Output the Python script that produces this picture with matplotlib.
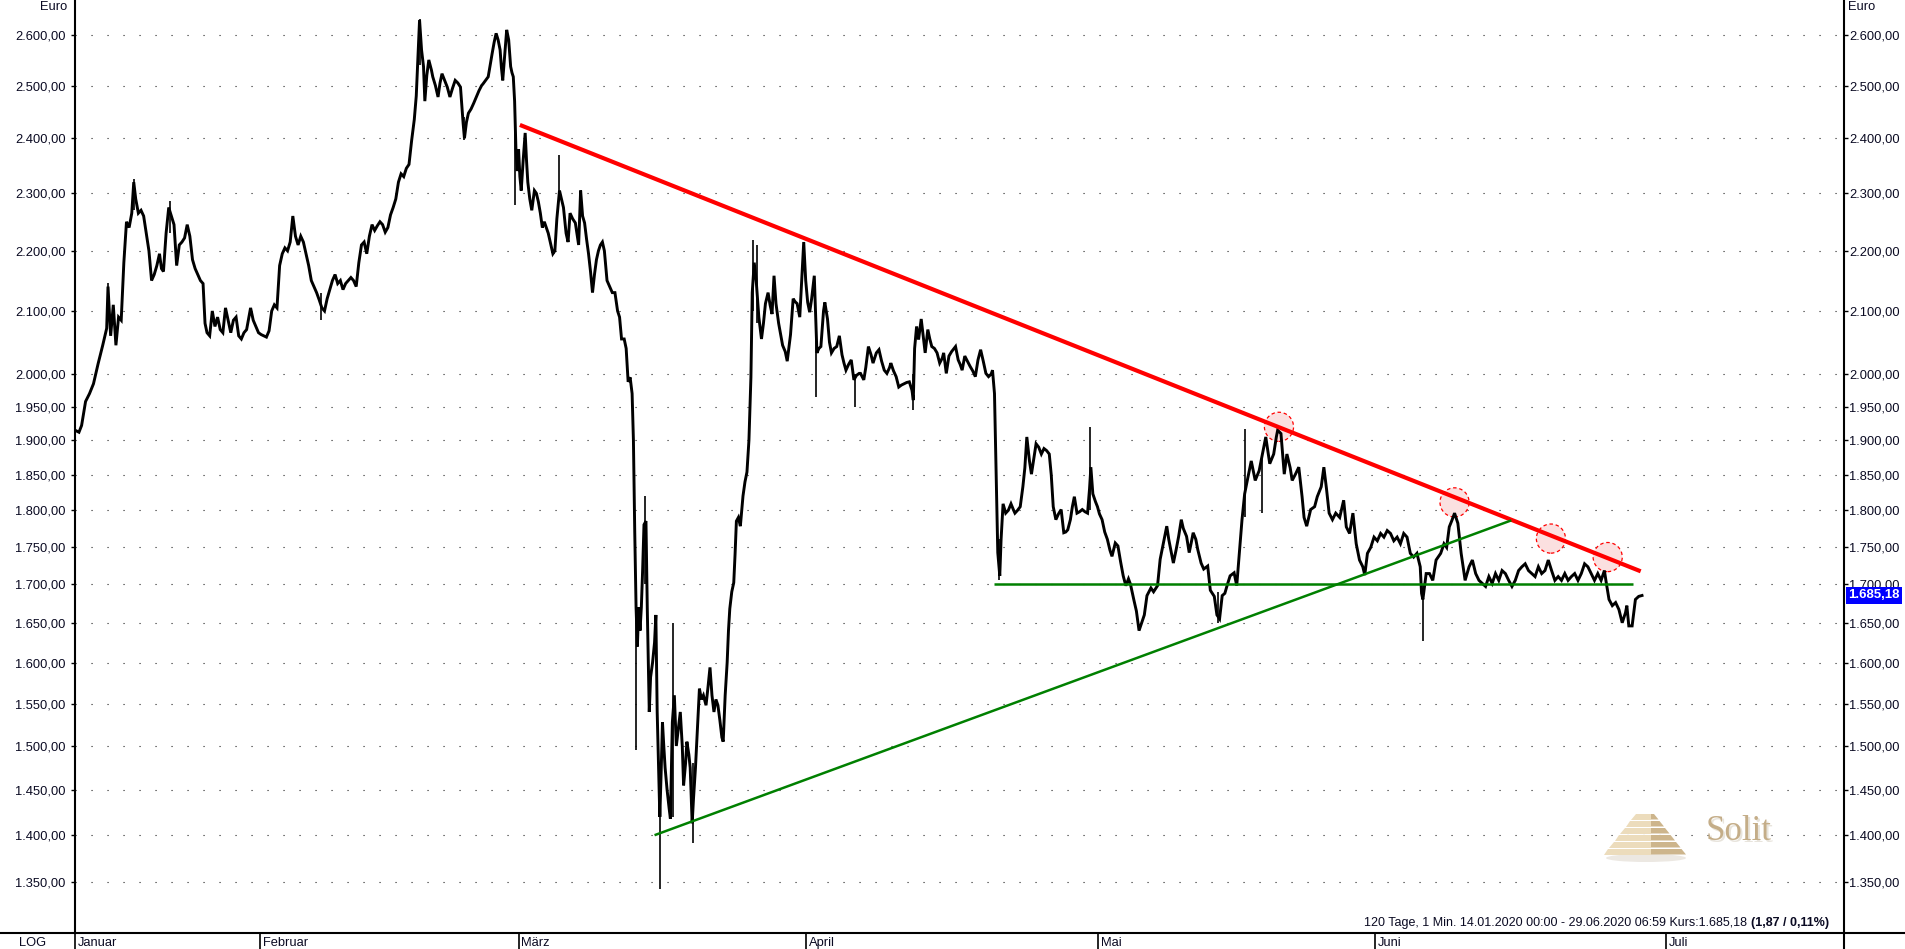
import matplotlib
matplotlib.use('Agg')
import matplotlib.pyplot as plt
from matplotlib.lines import Line2D
from matplotlib.patches import Polygon, Ellipse
from matplotlib.ticker import NullLocator
from matplotlib.transforms import blended_transform_factory

plt.rcParams['font.family'] = ['Liberation Sans', 'DejaVu Sans']
plt.rcParams['font.size'] = 9
plt.rcParams['lines.scale_dashes'] = False

# ---- data (x = trading days since 14.01.2020, y = Euro) ----
days = [0.0, 0.3, 0.5, 0.8, 1.1, 1.4, 1.75, 2.1, 2.4, 2.5, 2.7, 2.9, 3.1, 3.3, 3.5, 3.7, 3.9, 4.1, 4.3, 4.45,
        4.6, 4.8, 5.0, 5.2, 5.4, 5.6, 5.8, 6.0, 6.2, 6.4, 6.55, 6.7, 6.9, 7.1, 7.3, 7.5, 7.7, 7.9, 8.1, 8.3,
        8.5, 8.7, 8.9, 9.1, 9.3, 9.5, 9.7, 9.85, 10.0, 10.2, 10.4, 10.6, 10.8, 11.0, 11.2, 11.4, 11.6, 11.8, 12.0, 12.2,
        12.4, 12.6, 12.8, 13.0, 13.3, 13.5, 13.7, 13.9, 14.1, 14.3, 14.5, 14.7, 14.9, 15.1, 15.3, 15.5, 15.7, 15.9, 16.1, 16.3,
        16.5, 16.7, 16.9, 17.1, 17.3, 17.5, 17.7, 17.9, 18.1, 18.3, 18.5, 18.7, 18.9, 19.1, 19.3, 19.5, 19.7, 19.9, 20.1, 20.3,
        20.5, 20.7, 20.9, 21.1, 21.3, 21.5, 21.7, 21.9, 22.1, 22.3, 22.5, 22.7, 22.9, 23.1, 23.3, 23.5, 23.7, 23.9, 24.1, 24.3,
        24.5, 24.7, 24.9, 25.1, 25.3, 25.5, 25.7, 25.85, 25.95, 26.1, 26.25, 26.4, 26.5, 26.65, 26.8, 27.0, 27.1, 27.3, 27.5, 27.65,
        27.8, 28.0, 28.2, 28.4, 28.6, 28.8, 29.0, 29.2, 29.4, 29.5, 29.65, 29.8, 30.0, 30.2, 30.4, 30.6, 30.8, 30.9, 31.1, 31.3,
        31.45, 31.6, 31.75, 31.9, 32.05, 32.2, 32.3, 32.4, 32.55, 32.7, 32.85, 33.0, 33.1, 33.2, 33.3, 33.4, 33.5, 33.6, 33.7, 33.8,
        33.95, 34.1, 34.2, 34.3, 34.45, 34.6, 34.8, 34.95, 35.1, 35.25, 35.4, 35.55, 35.7, 35.85, 36.0, 36.2, 36.35, 36.5, 36.7, 36.85,
        37.0, 37.2, 37.35, 37.5, 37.7, 37.9, 38.05, 38.15, 38.3, 38.45, 38.6, 38.75, 38.9, 39.05, 39.2, 39.35, 39.5, 39.65, 39.8, 39.95,
        40.1, 40.3, 40.5, 40.7, 40.9, 41.1, 41.25, 41.4, 41.6, 41.75, 41.9, 42.05, 42.2, 42.3, 42.4, 42.5, 42.6, 42.7, 42.8, 42.9,
        43.0, 43.1, 43.25, 43.35, 43.5, 43.6, 43.75, 43.9, 44.0, 44.1, 44.2, 44.3, 44.4, 44.5, 44.6, 44.7, 44.85, 45.0, 45.1, 45.25,
        45.4, 45.55, 45.7, 45.85, 46.0, 46.1, 46.25, 46.35, 46.5, 46.6, 46.75, 46.85, 47.0, 47.15, 47.3, 47.45, 47.6, 47.8, 47.95, 48.1,
        48.25, 48.4, 48.55, 48.7, 48.85, 49.0, 49.1, 49.25, 49.4, 49.5, 49.6, 49.75, 49.9, 50.0, 50.1, 50.25, 50.4, 50.6, 50.75, 50.9,
        51.05, 51.2, 51.3, 51.45, 51.6, 51.8, 52.0, 52.15, 52.3, 52.5, 52.65, 52.8, 52.95, 53.1, 53.3, 53.45, 53.6, 53.8, 53.95, 54.1,
        54.2, 54.4, 54.55, 54.7, 54.9, 55.05, 55.2, 55.35, 55.5, 55.65, 55.8, 56.0, 56.2, 56.35, 56.5, 56.7, 56.8, 57.0, 57.15, 57.3,
        57.5, 57.7, 57.9, 58.1, 58.25, 58.4, 58.6, 58.8, 59.0, 59.2, 59.4, 59.5, 59.75, 59.9, 60.1, 60.3, 60.45, 60.7, 60.9, 61.1,
        61.3, 61.5, 61.7, 61.8, 62.0, 62.2, 62.4, 62.6, 62.8, 63.0, 63.2, 63.4, 63.5, 63.6, 63.75, 63.9, 64.1, 64.25, 64.4, 64.6,
        64.75, 64.9, 65.1, 65.3, 65.5, 65.7, 65.8, 66.0, 66.2, 66.4, 66.7, 66.9, 67.05, 67.2, 67.4, 67.6, 67.8, 68.0, 68.2, 68.4,
        68.6, 68.8, 69.0, 69.2, 69.4, 69.5, 69.65, 69.8, 69.9, 70.05, 70.15, 70.3, 70.5, 70.7, 70.9, 71.1, 71.2, 71.4, 71.6, 71.8,
        71.95, 72.1, 72.3, 72.45, 72.6, 72.8, 73.0, 73.2, 73.4, 73.6, 73.8, 73.95, 74.1, 74.3, 74.5, 74.7, 74.9, 75.05, 75.2, 75.4,
        75.55, 75.7, 75.9, 76.1, 76.3, 76.5, 76.7, 76.85, 76.95, 77.1, 77.3, 77.45, 77.6, 77.8, 78.0, 78.2, 78.4, 78.55, 78.8, 79.0,
        79.2, 79.4, 79.6, 79.8, 79.95, 80.2, 80.4, 80.6, 80.8, 81.0, 81.2, 81.5, 81.7, 82.0, 82.2, 82.5, 82.7, 82.85, 83.0, 83.2,
        83.4, 83.6, 83.8, 83.95, 84.2, 84.4, 84.55, 84.7, 84.9, 85.05, 85.3, 85.5, 85.8, 86.0, 86.3, 86.5, 86.7, 86.9, 87.1, 87.3,
        87.5, 87.8, 88.0, 88.2, 88.4, 88.6, 88.8, 89.1, 89.4, 89.7, 89.95, 90.2, 90.5, 90.8, 91.0, 91.1, 91.35, 91.6, 91.8, 92.05,
        92.2, 92.45, 92.7, 92.95, 93.1, 93.3, 93.6, 93.9, 94.1, 94.4, 94.6, 94.8, 95.0, 95.25, 95.5, 95.8, 96.1, 96.3, 96.55, 96.8,
        97.05, 97.3, 97.55, 97.7, 97.9, 98.15, 98.4, 98.65, 98.9, 99.15, 99.4, 99.65, 99.9, 100.15, 100.4, 100.65, 100.9, 101.15, 101.4, 101.65,
        101.9, 102.0, 102.1, 102.35, 102.6, 102.85, 103.1, 103.45, 103.7, 103.9, 104.1, 104.3, 104.5, 104.75, 105.0, 105.3, 105.6, 105.85, 106.1, 106.35,
        106.6, 106.85, 107.1, 107.35, 107.6, 107.85, 108.1, 108.35, 108.6, 108.85, 109.1, 109.35, 109.6, 109.85, 110.1, 110.35, 110.6, 110.85, 111.1, 111.35,
        111.6, 111.85, 112.1, 112.35, 112.6, 112.85, 113.1, 113.35, 113.6, 113.85, 114.1, 114.35, 114.6, 114.85, 115.1, 115.35, 115.6, 115.85, 116.0, 116.2,
        116.45, 116.7, 116.95, 117.2, 117.45, 117.55, 117.7, 117.95, 118.2, 118.45, 118.7]
price = [1915, 1912, 1922, 1958, 1970, 1985, 2016, 2045, 2072, 2140, 2060, 2110, 2045, 2090, 2085, 2180, 2250, 2240, 2265, 2320,
         2290, 2265, 2270, 2260, 2230, 2200, 2150, 2160, 2175, 2195, 2170, 2165, 2230, 2275, 2260, 2245, 2175, 2210, 2215, 2222,
         2245, 2225, 2185, 2170, 2160, 2150, 2145, 2080, 2065, 2060, 2100, 2075, 2090, 2070, 2065, 2105, 2085, 2065, 2085, 2090,
         2060, 2055, 2065, 2070, 2105, 2085, 2075, 2065, 2062, 2060, 2058, 2068, 2100, 2110, 2105, 2175, 2195, 2205, 2200, 2215,
         2260, 2225, 2210, 2225, 2215, 2195, 2175, 2150, 2140, 2130, 2118, 2105, 2100, 2120, 2135, 2150, 2160, 2145, 2150, 2135,
         2145, 2150, 2155, 2150, 2140, 2180, 2210, 2215, 2195, 2225, 2245, 2235, 2243, 2250, 2245, 2232, 2240, 2262, 2275, 2290,
         2320, 2335, 2330, 2345, 2352, 2396, 2435, 2480, 2540, 2630, 2570, 2537, 2470, 2520, 2550, 2530, 2517, 2500, 2478, 2505,
         2523, 2510, 2497, 2478, 2495, 2510, 2505, 2497, 2428, 2400, 2430, 2447, 2455, 2466, 2478, 2490, 2500, 2503, 2510, 2517,
         2540, 2563, 2585, 2603, 2590, 2570, 2535, 2510, 2560, 2610, 2590, 2537, 2525, 2517, 2470, 2380, 2340, 2380, 2330, 2305,
         2360, 2410, 2360, 2320, 2290, 2270, 2305, 2300, 2285, 2265, 2240, 2250, 2240, 2230, 2215, 2195, 2200, 2255, 2305, 2290,
         2275, 2230, 2215, 2265, 2255, 2248, 2225, 2210, 2305, 2260, 2248, 2220, 2195, 2165, 2130, 2160, 2185, 2200, 2210, 2215,
         2200, 2150, 2140, 2130, 2130, 2100, 2090, 2055, 2055, 2040, 1988, 1995, 1970, 1900, 1770, 1670, 1620, 1670, 1640, 1670,
         1720, 1780, 1785, 1668, 1540, 1582, 1600, 1625, 1660, 1540, 1480, 1420, 1470, 1528, 1500, 1475, 1450, 1430, 1418, 1528,
         1560, 1500, 1520, 1540, 1500, 1455, 1480, 1505, 1490, 1475, 1413, 1440, 1475, 1520, 1568, 1555, 1560, 1548, 1570, 1594,
         1560, 1540, 1555, 1548, 1530, 1510, 1505, 1560, 1600, 1640, 1668, 1690, 1702, 1740, 1785, 1790, 1778, 1820, 1840, 1854,
         1900, 1995, 2130, 2180, 2150, 2090, 2055, 2080, 2112, 2130, 2110, 2095, 2158, 2112, 2080, 2062, 2045, 2035, 2020, 2045,
         2062, 2120, 2115, 2112, 2090, 2150, 2215, 2150, 2114, 2098, 2120, 2158, 2033, 2040, 2043, 2100, 2114, 2087, 2050, 2033,
         2040, 2043, 2060, 2030, 2017, 2006, 2015, 2022, 1991, 1998, 2001, 2001, 1991, 2010, 2043, 2030, 2017, 2033, 2038, 2020,
         2006, 2001, 2010, 2017, 2005, 1996, 1980, 1983, 1985, 1987, 1988, 1975, 1960, 2040, 2075, 2054, 2087, 2060, 2033, 2070,
         2055, 2043, 2040, 2033, 2017, 2025, 2033, 2001, 2028, 2035, 2043, 2022, 2015, 2006, 2028, 2020, 2012, 2005, 1996, 2022,
         2038, 2020, 2001, 1996, 2000, 2006, 1970, 1833, 1742, 1711, 1760, 1809, 1796, 1800, 1809, 1800, 1796, 1800, 1805, 1833,
         1860, 1905, 1870, 1851, 1870, 1895, 1890, 1880, 1888, 1885, 1880, 1850, 1805, 1787, 1795, 1801, 1769, 1770, 1773, 1787,
         1805, 1819, 1796, 1798, 1801, 1798, 1796, 1830, 1861, 1823, 1812, 1805, 1795, 1787, 1770, 1760, 1745, 1737, 1755, 1751,
         1730, 1711, 1698, 1707, 1700, 1680, 1665, 1640, 1650, 1660, 1685, 1695, 1690, 1698, 1733, 1760, 1778, 1760, 1746, 1728,
         1745, 1764, 1787, 1775, 1764, 1742, 1755, 1769, 1760, 1746, 1728, 1720, 1724, 1692, 1684, 1660, 1655, 1685, 1688, 1700,
         1711, 1715, 1698, 1742, 1787, 1823, 1842, 1870, 1842, 1856, 1880, 1905, 1866, 1880, 1905, 1915, 1910, 1851, 1880, 1860,
         1842, 1851, 1861, 1819, 1790, 1778, 1801, 1805, 1819, 1833, 1861, 1830, 1796, 1787, 1796, 1790, 1814, 1777, 1768, 1796,
         1754, 1732, 1723, 1712, 1741, 1749, 1763, 1758, 1768, 1763, 1772, 1768, 1758, 1763, 1754, 1768, 1763, 1741, 1736, 1741,
         1723, 1688, 1680, 1714, 1714, 1705, 1732, 1741, 1754, 1749, 1777, 1786, 1796, 1782, 1741, 1705, 1723, 1732, 1714, 1705,
         1701, 1697, 1710, 1701, 1714, 1705, 1718, 1714, 1705, 1697, 1705, 1718, 1723, 1727, 1718, 1714, 1710, 1723, 1714, 1718,
         1732, 1718, 1705, 1710, 1705, 1714, 1705, 1710, 1714, 1705, 1714, 1727, 1723, 1714, 1705, 1714, 1705, 1718, 1701, 1680,
         1672, 1676, 1667, 1650, 1663, 1672, 1646, 1646, 1680, 1684, 1685.18]

# single-candle wicks
wick_days = [2.5, 4.45, 7.2, 18.6, 26.1, 29.45, 33.35, 36.7, 42.5, 43.15, 44.3, 45.3, 46.8, 51.35, 51.65,
             56.1, 59.1, 63.5, 70.0, 76.9, 86.6, 88.6, 89.9, 102.1]
wick_low = [2100, 2270, 2230, 2085, 2540, 2397, 2280, 2290, 1495, 1700, 1343, 1420, 1392, 2100, 2080,
            1965, 1950, 1945, 1705, 1800, 1650, 1790, 1796, 1627]
wick_high = [2146, 2325, 2287, 2130, 2632, 2440, 2470, 2370, 1680, 1820, 1440, 1650, 1480, 2218, 2210,
             2090, 2000, 2000, 1760, 1920, 1690, 1917, 1880, 1700]

# trend lines
red_days = [33.7, 118.6]
red_price = [2425, 1717]
green_up_days = [43.9, 108.8]
green_up_price = [1400, 1786]
support_days = [69.6, 118.0]
support_price = [1700, 1700]

# touch points marked with circles
touch_days = [91.2, 104.5, 111.8, 116.1]
touch_price = [1920, 1811, 1761, 1736]

last_price = 1685.18
last_label = '1.685,18'

ytick_vals = [1350, 1400, 1450, 1500, 1550, 1600, 1650, 1700, 1750, 1800, 1850, 1900, 1950, 2000,
              2100, 2200, 2300, 2400, 2500, 2600]
ytick_labels = ['1.350,00', '1.400,00', '1.450,00', '1.500,00', '1.550,00', '1.600,00', '1.650,00',
                '1.700,00', '1.750,00', '1.800,00', '1.850,00', '1.900,00', '1.950,00', '2.000,00',
                '2.100,00', '2.200,00', '2.300,00', '2.400,00', '2.500,00', '2.600,00']
month_days = [0, 14, 33.6, 55.4, 77.5, 98.5, 120.5]
month_names = ['Januar', 'Februar', 'März', 'April', 'Mai', 'Juni', 'Juli']

info_text = '120 Tage, 1 Min. 14.01.2020 00:00 - 29.06.2020 06:59 Kurs:1.685,18'
info_bold = '(1,87 / 0,11%)'

# ---- figure ----
W, H = 1906, 949
fig = plt.figure(figsize=(W / 100, H / 100), dpi=100)
ax = fig.add_axes([75 / W, (H - 933) / H, (1844 - 75) / W, 933 / H])
ax.set_yscale('log')
ax.set_ylim(1298, 2671)
ax.set_xlim(0, 134)

txt_col = '#0a0a22'
fs = 9.3

for yv in ytick_vals:
    ax.axhline(yv, color='#222222', lw=0.8, ls=(0, (0.8, 10.72)), zorder=0)

ax.scatter(touch_days, touch_price, s=440, facecolors='#fbe0e0', edgecolors='red',
           linewidths=0.9, linestyles=(0, (2.5, 2)), zorder=1)

ax.vlines(wick_days, wick_low, wick_high, color='black', lw=1.2, zorder=2)
ax.plot(days, price, color='black', lw=2.1, zorder=2, solid_joinstyle='miter')

ax.plot(red_days, red_price, color='#ff0000', lw=3.0, zorder=3, solid_capstyle='butt')
ax.plot(green_up_days, green_up_price, color='#008000', lw=1.8, zorder=3, solid_capstyle='butt')
ax.plot(support_days, support_price, color='#008000', lw=1.8, zorder=3, solid_capstyle='butt')

# axes styling
for side in ['top', 'bottom']:
    ax.spines[side].set_visible(False)
for side in ['left', 'right']:
    ax.spines[side].set_linewidth(1.5)
ax.yaxis.set_minor_locator(NullLocator())
ax.set_yticks(ytick_vals)
ax.set_yticklabels(ytick_labels)
ax.tick_params(axis='y', length=3, width=1, pad=3.6, labelsize=fs, labelcolor=txt_col)

ax.set_xticks(month_days)
ax.tick_params(axis='x', length=11.5, width=1.2, direction='out', labelbottom=False)
for d, name in zip(month_days, month_names):
    ax.annotate(name, xy=(d, 0), xycoords=('data', 'axes fraction'), xytext=(2, -7.3),
                textcoords='offset points', ha='left', va='center', fontsize=fs, color=txt_col)

ax2 = ax.twinx()
ax2.set_yscale('log')
ax2.set_ylim(ax.get_ylim())
for side in ['top', 'bottom', 'left', 'right']:
    ax2.spines[side].set_visible(False)
ax2.yaxis.set_minor_locator(NullLocator())
ax2.set_yticks(ytick_vals)
ax2.set_yticklabels(ytick_labels)
ax2.tick_params(axis='y', length=3, width=1, pad=0.8, labelsize=fs, labelcolor=txt_col)

trans = blended_transform_factory(ax2.transAxes, ax2.transData)
ax2.text(1.0025, last_price, last_label, transform=trans, ha='left', va='center',
         color='white', fontsize=9.5, fontweight='bold', zorder=5,
         bbox=dict(boxstyle='square,pad=0.18', fc='#0000ff', ec='none'))

# frame lines outside axes
yb = 1 - 933 / H
fig.add_artist(Line2D([0, 1], [yb, yb], color='black', lw=1.5))
fig.add_artist(Line2D([1844 / W, 1844 / W], [0, yb], color='black', lw=1.5))

fig.text(67 / W, 1 - 7 / H, 'Euro', ha='right', va='center', fontsize=fs, color=txt_col)
fig.text(1848 / W, 1 - 7 / H, 'Euro', ha='left', va='center', fontsize=fs, color=txt_col)
fig.text(33 / W, 1 - 943 / H, 'LOG', ha='center', va='center', fontsize=fs, color=txt_col)

yi = 1 - 923 / H
tb = fig.text(1829 / W, yi, info_bold, ha='right', va='center', fontsize=9, fontweight='bold', color=txt_col)
fig.canvas.draw()
bb = tb.get_window_extent()
fig.text((bb.x0 - 4) / W, yi, info_text, ha='right', va='center', fontsize=9, color=txt_col)

# Solit logo
fig.text(1741 / W, 1 - 834 / H, 'Solit', ha='center', va='center', fontsize=25,
         family=['Liberation Serif', 'DejaVu Serif'], color='#e8e4dc')
fig.text(1739 / W, 1 - 832 / H, 'Solit', ha='center', va='center', fontsize=25,
         family=['Liberation Serif', 'DejaVu Serif'], color='#c4ad88')
fig.add_artist(Ellipse((1646 / W, 1 - 858 / H), 80 / W, 8 / H, transform=fig.transFigure,
                       fc='#ece8e2', ec='none'))
cx = 1645
for i in range(6):
    top = 814 + i * 7
    bot = top + 5.5
    wt = 18 + i * 11
    wb = wt + 9
    left = Polygon([(cx - wt / 2, top), (cx + 6, top), (cx + 6, bot), (cx - wb / 2, bot)], closed=True)
    right = Polygon([(cx + 6, top), (cx + wt / 2, top), (cx + wb / 2, bot), (cx + 6, bot)], closed=True)
    for p, c in [(left, '#ecdcbc'), (right, '#cdb58c')]:
        xy = p.get_xy()
        p.set_xy([(x / W, 1 - y / H) for x, y in xy])
        p.set_transform(fig.transFigure)
        p.set_facecolor(c)
        p.set_edgecolor('none')
        fig.add_artist(p)

fig.savefig('out.png', dpi=100)
